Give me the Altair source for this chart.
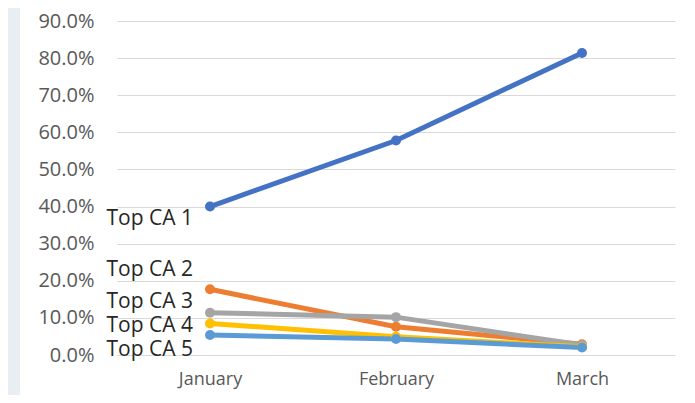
import altair as alt
import pandas as pd

months = ["January", "February", "March"]
series = ["Top CA 1", "Top CA 2", "Top CA 3", "Top CA 4", "Top CA 5"]
ca1 = [0.400, 0.578, 0.814]
ca2 = [0.177, 0.076, 0.029]
ca3 = [0.114, 0.102, 0.027]
ca4 = [0.085, 0.049, 0.022]
ca5 = [0.054, 0.043, 0.020]
colors = ["#4472C4", "#ED7D31", "#A5A5A5", "#FFC000", "#5B9BD5"]

values = [ca1, ca2, ca3, ca4, ca5]
rows = []
for s_i, (name, vals) in enumerate(zip(series, values)):
    for m, v in zip(months, vals):
        rows.append({"series": name, "month": m, "value": v, "order": s_i})
df = pd.DataFrame(rows)

x_enc = alt.X("month:N", sort=months, title=None,
              scale=alt.Scale(type="point", padding=0.5),
              axis=alt.Axis(labelAngle=0, labelFontSize=18, labelColor="#595959",
                            labelFont="Open Sans", ticks=False, domain=False,
                            grid=False, labelPadding=15))
y_enc = alt.Y("value:Q", title=None,
              scale=alt.Scale(domain=[0, 0.9], nice=False),
              axis=alt.Axis(format=".1%", values=[i / 10 for i in range(10)],
                            labelFontSize=20, labelColor="#595959", labelFont="Open Sans",
                            ticks=False, domain=False, gridColor="#D9D9D9",
                            gridWidth=1.2, labelPadding=23))
color_enc = alt.Color("series:N", sort=series,
                      scale=alt.Scale(domain=series, range=colors), legend=None)

base = alt.Chart(df)
lines = base.mark_line(strokeWidth=5).encode(x=x_enc, y=y_enc, color=color_enc,
                                             order=alt.Order("order:Q"))
points = base.mark_point(filled=True, size=100, opacity=1).encode(
    x=x_enc, y=y_enc, color=color_enc)

strip = alt.Chart(pd.DataFrame({"a": [0]})).mark_rect(color="#E9EEF3").encode(
    x=alt.value(-109), x2=alt.value(-97), y=alt.value(-13), y2=alt.value(400))

label_dy = [18, -13, -5, 9, 21]
label_layers = []
for name, vals, dy in zip(series, values, label_dy):
    ldf = pd.DataFrame({"month": [months[0]], "value": [vals[0]], "label": [name]})
    label_layers.append(
        alt.Chart(ldf).mark_text(align="right", baseline="alphabetic", dx=-17, dy=dy,
                                 fontSize=21, font="Open Sans", color="#262626").encode(
            x=x_enc, y=y_enc, text="label:N"))

chart = alt.layer(strip, lines, points, *label_layers).properties(
    width=558, height=334, autosize="none",
    padding={"left": 109, "top": 13, "right": 5, "bottom": 40},
    background="white",
).configure_view(stroke=None)

chart.save("out.html", embed_options={"renderer": "svg", "actions": False})
